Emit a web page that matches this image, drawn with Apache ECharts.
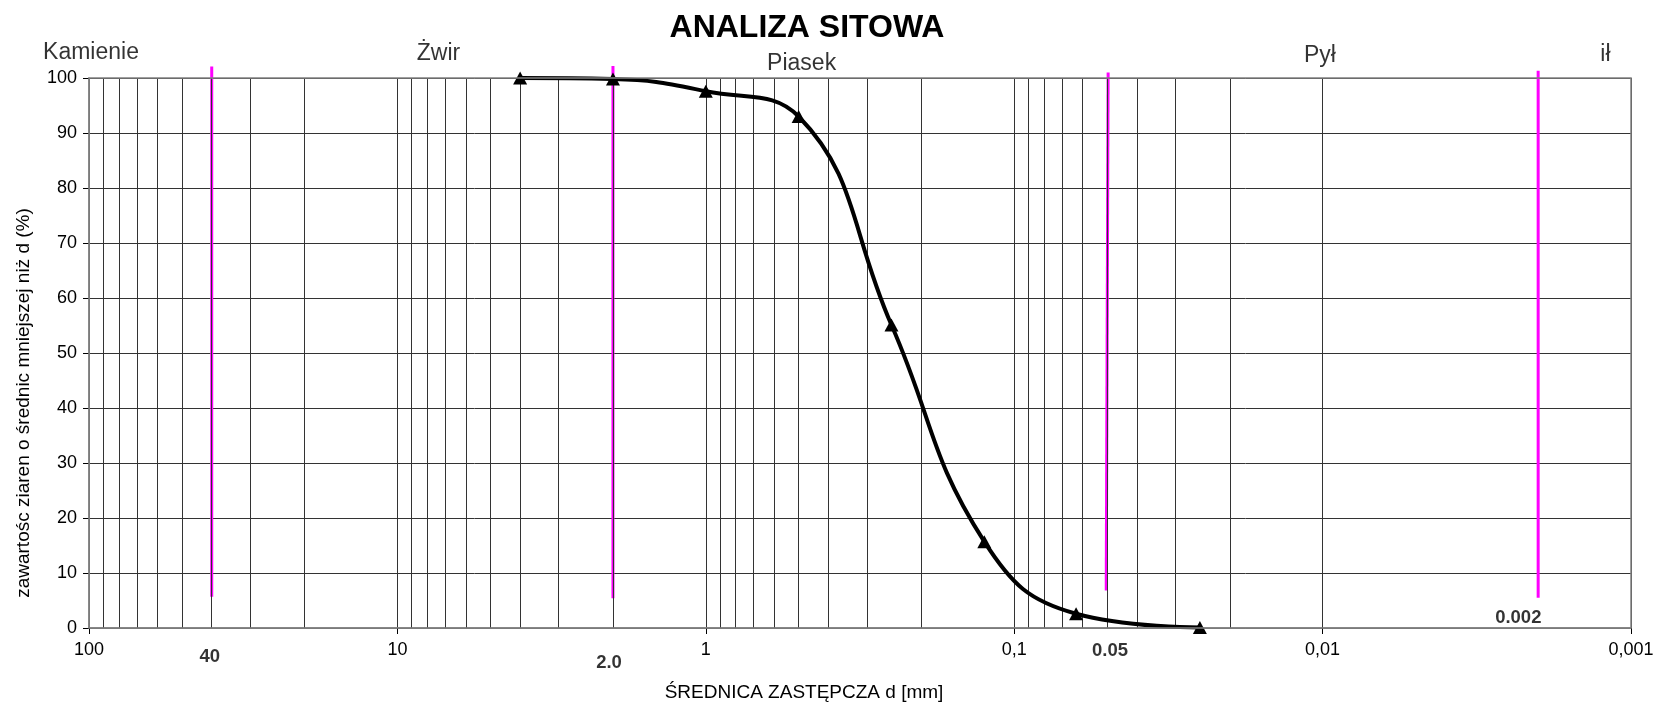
<!DOCTYPE html>
<html>
<head>
<meta charset="utf-8">
<script src="https://cdn.jsdelivr.net/npm/echarts@6/dist/echarts.min.js"></script>
<style>html,body{margin:0;padding:0;background:#fff}#c{width:1659px;height:705px}</style>
</head>
<body>
<div id="c"></div>
<script>
// grain sizes [mm] and percent passing
var sieveSizes = [4, 2, 1, 0.5, 0.25, 0.125, 0.063, 0.025];
var passing = [100, 99.8, 97.6, 93.0, 55.1, 15.7, 2.6, 0.1];

// minor log grid values (between decades)
var minorGrid = [90,80,70,60,50,40,30,20, 9,8,7,6,5,4,3,2, 0.9,0.8,0.7,0.6,0.5,0.4,0.3,0.2,
  0.09,0.08,0.07,0.06,0.05,0.04,0.03,0.02, 0.009,0.008,0.007,0.006,0.005,0.004,0.003,0.002];

// fraction boundaries (magenta lines): x top, x bottom, y top, y bottom
var boundaryXTop = [40, 2.0, 0.0496, 0.002];
var boundaryXBottom = [40, 2.0, 0.0503, 0.002];
var boundaryYTop = [102.1, 102.2, 101.0, 101.3];
var boundaryYBottom = [5.7, 5.4, 6.8, 5.5];

// bold boundary labels
var boundaryLabels = ['40', '2.0', '0.05', '0.002'];
var boundaryLabelX = [40.6, 2.06, 0.0489, 0.00232];
var boundaryLabelY = [-5.3, -6.4, -4.2, 1.8];

// fraction names above the plot
var fractionNames = ['Kamienie', 'Żwir', 'Piasek', 'Pył', 'ił'];
var fractionX = [98.5, 7.36, 0.489, 0.0102, 0.00121];
var fractionY = [104.6, 104.5, 102.6, 104.0, 104.2];

var F = 'Liberation Sans, Arial, sans-serif';

var series = [];
series.push({
  type: 'line', name: 'grid', data: [], silent: true,
  markLine: {
    silent: true, symbol: 'none', label: {show: false},
    lineStyle: {color: '#333', width: 1, type: 'solid'},
    data: minorGrid.map(function (v) { return {xAxis: v}; })
  }
});
for (var i = 0; i < boundaryXTop.length; i++) {
  series.push({
    type: 'line', clip: false, silent: true, symbol: 'none', z: 3,
    lineStyle: {color: '#ff00ff', width: 3},
    data: [[boundaryXTop[i], boundaryYTop[i]], [boundaryXBottom[i], boundaryYBottom[i]]]
  });
}
series.push({
  type: 'line', smooth: 0.45, clip: false, z: 5,
  symbol: 'triangle', symbolSize: [14, 13],
  lineStyle: {color: '#000', width: 4},
  itemStyle: {color: '#000'},
  data: sieveSizes.map(function (s, i) { return [s, passing[i]]; })
});
series.push({
  type: 'scatter', clip: false, silent: true, symbolSize: 0,
  label: {show: true, position: 'inside', formatter: function (p) { return p.data[2]; },
    fontFamily: F, fontSize: 18.5, fontWeight: 'bold', color: '#000'},
  data: boundaryLabels.map(function (t, i) { return [boundaryLabelX[i], boundaryLabelY[i], t]; })
});
series.push({
  type: 'scatter', clip: false, silent: true, symbolSize: 0,
  label: {show: true, position: 'inside', formatter: function (p) { return p.data[2]; },
    fontFamily: F, fontSize: 23, color: '#000'},
  data: fractionNames.map(function (t, i) { return [fractionX[i], fractionY[i], t]; })
});

var chart = echarts.init(document.getElementById('c'));
chart.setOption({
  animation: false,
  backgroundColor: '#fff',
  title: {
    text: 'ANALIZA SITOWA', left: 802, top: 7, textAlign: 'center',
    textStyle: {fontFamily: F, fontSize: 32, fontWeight: 'bold', color: '#000'}
  },
  grid: {left: 89, right: 28, top: 78, bottom: 77},
  xAxis: {
    type: 'log', logBase: 10, min: 0.001, max: 100, inverse: true,
    axisLine: {lineStyle: {color: '#808080', width: 1.5}},
    axisTick: {show: true, length: 6, lineStyle: {color: '#000'}},
    splitLine: {show: true, lineStyle: {color: '#333', width: 1}},
    axisLabel: {
      fontFamily: F, fontSize: 18, color: '#000', margin: 13,
      formatter: function (v) { return String(+(+v).toPrecision(6)).replace('.', ','); }
    }
  },
  yAxis: {
    type: 'value', min: 0, max: 100, interval: 10,
    axisLine: {show: true, lineStyle: {color: '#808080', width: 1.5}},
    axisTick: {show: true, length: 6, lineStyle: {color: '#000'}},
    splitLine: {show: true, lineStyle: {color: '#333', width: 1}},
    axisLabel: {fontFamily: F, fontSize: 18, color: '#000', margin: 12}
  },
  graphic: [
    {type: 'rect', shape: {x: 89, y: 78, width: 1542, height: 550}, silent: true,
      style: {fill: 'none', stroke: '#808080', lineWidth: 1.5}, z: 10},
    {type: 'text', x: 804, y: 693, silent: true,
      style: {text: 'ŚREDNICA ZASTĘPCZA d [mm]', fontFamily: F, fontSize: 19, fill: '#000',
        textAlign: 'center', textVerticalAlign: 'middle'}},
    {type: 'text', x: 24, y: 403, rotation: Math.PI / 2, silent: true,
      style: {text: 'zawartośc ziaren o średnic mniejszej niż d (%)', fontFamily: F, fontSize: 19, fill: '#000',
        textAlign: 'center', textVerticalAlign: 'middle'}}
  ],
  series: series
});
</script>
</body>
</html>
